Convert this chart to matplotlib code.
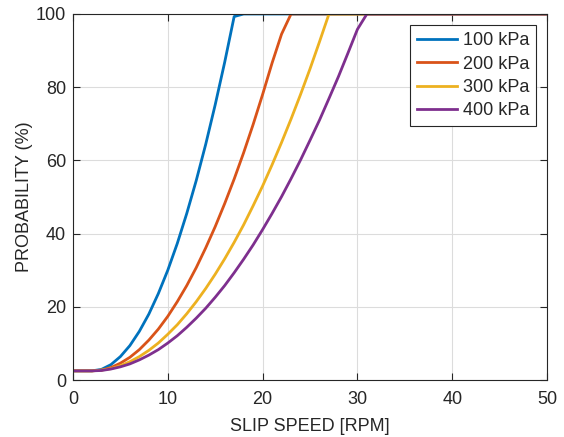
import matplotlib
matplotlib.use("Agg")
import matplotlib.pyplot as plt

plt.rcParams['font.family'] = ['Liberation Sans', 'DejaVu Sans']

# slip speed samples (RPM)
slip = list(range(0, 51))

# probability (%), one value per RPM
p100 = [2.5, 2.5, 2.5, 2.9, 4.2, 6.4, 9.4, 13.3, 18.0, 23.6, 30.0, 37.3, 45.5, 54.5,
        64.4, 75.2, 86.8, 99.3] + [100.0] * 33
p200 = [2.5, 2.5, 2.5, 2.7, 3.4, 4.6, 6.2, 8.3, 10.9, 13.9, 17.4, 21.4, 25.8, 30.7,
        36.1, 41.9, 48.2, 54.9, 62.1, 69.8, 78.0, 86.6, 94.5] + [100.0] * 28
p300 = [2.5, 2.5, 2.5, 2.7, 3.1, 3.9, 5.0, 6.4, 8.1, 10.1, 12.5, 15.1, 18.1, 21.4,
        25.0, 28.9, 33.1, 37.6, 42.4, 47.6, 53.0, 58.8, 64.9, 71.3, 78.0, 85.0,
        92.4] + [100.0] * 24
p400 = [2.5, 2.5, 2.5, 2.6, 3.0, 3.6, 4.4, 5.5, 6.8, 8.3, 10.1, 12.1, 14.4, 16.9,
        19.6, 22.6, 25.8, 29.3, 33.0, 36.9, 41.1, 45.5, 50.1, 55.0, 60.1, 65.5,
        71.0, 76.9, 82.9, 89.3, 95.8] + [100.0] * 20

labels = ['100 kPa', '200 kPa', '300 kPa', '400 kPa']
colors = ['#0072BD', '#D95319', '#EDB120', '#7E2F8E']

fig = plt.figure(figsize=(5.64, 4.37), dpi=100)
ax = fig.add_axes([0.1294, 0.1304, 0.8405, 0.8376])

for ys, lab, col in zip([p100, p200, p300, p400], labels, colors):
    ax.plot(slip, ys, color=col, lw=2.0, label=lab)

ax.set_xlim(0, 50)
ax.set_ylim(0, 100)
ax.set_xticks(range(0, 51, 10))
ax.set_yticks(range(0, 101, 20))
ax.grid(True, color='#dcdcdc', lw=0.8)
ax.set_axisbelow(True)

dark = '#262626'
for s in ax.spines.values():
    s.set_color(dark)
    s.set_linewidth(0.8)
ax.tick_params(direction='in', top=True, right=True, length=5, width=0.8,
               color=dark, labelcolor=dark, labelsize=13)
ax.tick_params(axis='x', pad=8)
ax.tick_params(axis='y', pad=5)

ax.set_xlabel('SLIP SPEED [RPM]', fontsize=13, color=dark, labelpad=7)
ax.set_ylabel('PROBABILITY (%)', fontsize=13, color=dark, labelpad=2)

leg = ax.legend(loc='upper right', fontsize=13, handlelength=2.2, handletextpad=0.3,
                labelspacing=0.35, borderpad=0.4, borderaxespad=0, fancybox=False,
                bbox_to_anchor=(0.977, 0.970))
leg.get_frame().set_edgecolor(dark)
leg.get_frame().set_linewidth(0.8)
leg.get_frame().set_alpha(1)
for t in leg.get_texts():
    t.set_color(dark)

fig.savefig('out.png', dpi=100)
